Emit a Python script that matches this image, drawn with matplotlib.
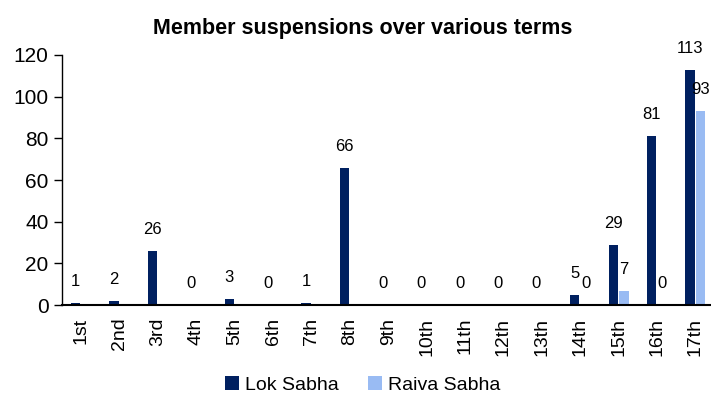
import matplotlib
matplotlib.use("Agg")
import matplotlib.pyplot as plt
import numpy as np

plt.rcParams['font.family'] = ['Liberation Sans', 'DejaVu Sans']

terms = ["1st", "2nd", "3rd", "4th", "5th", "6th", "7th", "8th", "9th", "10th",
         "11th", "12th", "13th", "14th", "15th", "16th", "17th"]
lok_sabha = [1, 2, 26, 0, 3, 0, 1, 66, 0, 0, 0, 0, 0, 5, 29, 81, 113]
raiva_sabha = [None] * 13 + [0, 7, 0, 93]

LOK_COLOR = "#002060"
RAIVA_COLOR = "#99BBF3"

fig = plt.figure(figsize=(7.11, 4.01), dpi=100)
ax = fig.add_axes([0.087, 0.239, 0.918, 0.624])

x = np.arange(len(terms))
w = 0.24
off = 0.14

ax.bar(x - off, lok_sabha, width=w, color=LOK_COLOR, label="Lok Sabha")
rx = [xi + off for xi, v in zip(x, raiva_sabha) if v is not None]
rv = [v for v in raiva_sabha if v is not None]
ax.bar(rx, rv, width=w, color=RAIVA_COLOR, label="Raiva Sabha")

for xi, v in zip(x, lok_sabha):
    ax.annotate(str(v), (xi - off, v), xytext=(0, 10), textcoords="offset points",
                ha="center", va="bottom", fontsize=12, clip_on=False)
for xi, v in zip(rx, rv):
    ax.annotate(str(v), (xi, v), xytext=(0, 10), textcoords="offset points",
                ha="center", va="bottom", fontsize=12, clip_on=False)

ax.set_xlim(-0.5, len(terms) - 0.5)
ax.set_ylim(0, 120)
ax.set_yticks([0, 20, 40, 60, 80, 100, 120])
ax.tick_params(axis="y", labelsize=15, length=6, width=1, direction="out")
ax.set_xticks(x)
ax.set_xticklabels(terms, rotation=90, fontsize=14)
ax.tick_params(axis="x", length=0, pad=9)

for s in ["top", "right"]:
    ax.spines[s].set_visible(False)
ax.spines["left"].set_linewidth(1.0)
ax.spines["bottom"].set_linewidth(1.5)

fig.text(0.51, 0.93, "Member suspensions over various terms", ha="center",
         va="center", fontsize=15.5, fontweight="bold")

fig.legend(loc="center", bbox_to_anchor=(0.51, 0.04), ncol=2, frameon=False,
           fontsize=14, handlelength=0.75, handleheight=0.75, handletextpad=0.3,
           columnspacing=1.5)

fig.savefig("out.png", dpi=100)
